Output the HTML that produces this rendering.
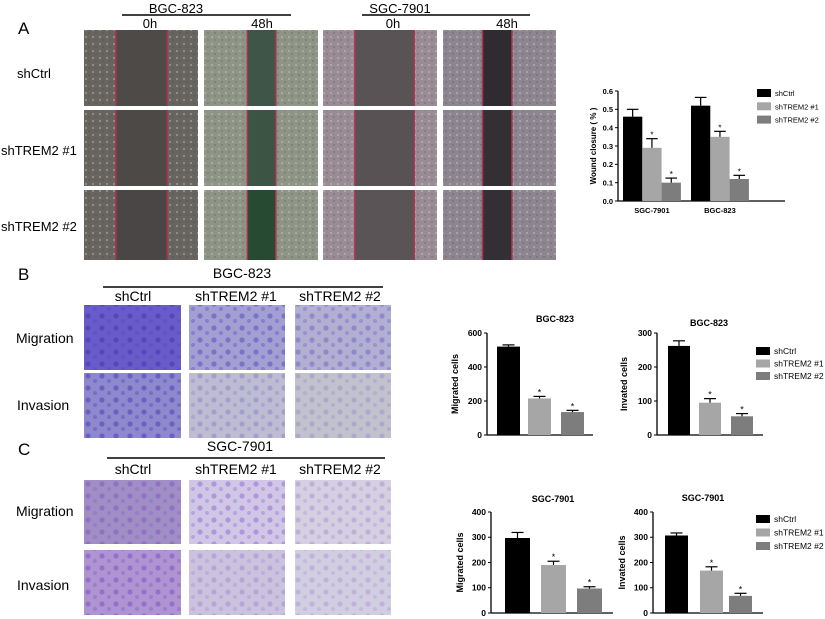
<!DOCTYPE html>
<html><head><meta charset="utf-8"><style>
body{margin:0;background:#fff;width:825px;height:619px;overflow:hidden;font-family:"Liberation Sans",Arial,sans-serif}
svg{display:block}
</style></head><body>
<svg id="fig" width="825" height="619" viewBox="0 0 825 619" xmlns="http://www.w3.org/2000/svg">
<defs>
<pattern id="speckA" width="7" height="7" patternUnits="userSpaceOnUse"><circle cx="2" cy="2" r="0.9" fill="#d8d4cc" opacity="0.6"/><circle cx="5" cy="5" r="0.7" fill="#302c2a" opacity="0.4"/></pattern>
<pattern id="blobB" width="14" height="12" patternUnits="userSpaceOnUse"><circle cx="4" cy="4" r="2.6" fill="#4a3cb8" opacity="0.75"/><circle cx="11" cy="9" r="2" fill="#5a4cc4" opacity="0.65"/></pattern>
<pattern id="blobC" width="14" height="12" patternUnits="userSpaceOnUse"><circle cx="4" cy="4" r="2.6" fill="#7a4cc8" opacity="0.7"/><circle cx="11" cy="9" r="2" fill="#8a5ccc" opacity="0.6"/></pattern>
</defs>
<g id="panelA"></g>
<g id="panelBC"></g>
<g id="charts"></g>
</svg>
<script>
// ===== Chart data =====
const groupsA = ["SGC-7901", "BGC-823"];
const seriesNames = ["shCtrl", "shTREM2 #1", "shTREM2 #2"];
const woundMeans = [[0.46, 0.29, 0.10], [0.52, 0.35, 0.12]];
const woundErrs = [[0.04, 0.05, 0.025], [0.045, 0.03, 0.02]];
const woundTicks = ["0.0", "0.1", "0.2", "0.3", "0.4", "0.5", "0.6"];
const bgcMigMeans = [520, 215, 135];
const bgcMigErrs = [10, 12, 10];
const bgcInvMeans = [262, 95, 55];
const bgcInvErrs = [15, 12, 8];
const sgcMigMeans = [297, 190, 97];
const sgcMigErrs = [22, 15, 7];
const sgcInvMeans = [307, 168, 68];
const sgcInvErrs = [10, 15, 10];
const ticks600 = [0, 200, 400, 600];
const ticks300 = [0, 100, 200, 300];
const ticks400 = [0, 100, 200, 300, 400];

const NS = "http://www.w3.org/2000/svg";
function mk(parent, tag, attrs, text) {
  const e = document.createElementNS(NS, tag);
  for (const k in attrs) e.setAttribute(k, attrs[k]);
  if (text !== undefined) e.textContent = text;
  parent.appendChild(e);
  return e;
}
const colors = ["#000000", "#a6a6a6", "#7d7d7d"];

// ===== Panel A micrographs =====
const pA = document.getElementById("panelA");
const colsA = [[84, 198], [204, 318], [323, 437], [443, 556]];
const rowsA = [[30, 106], [110, 186], [190, 260]];
const sideC = ["#68645f", "#8e9486", "#9a8c94", "#8d8590"];
const gapC = [["#4e4a48", "#4c4947", "#4a4645"], ["#3f5548", "#3c5444", "#274a33"], ["#5a5356", "#585255", "#5a5457"], ["#2e2c30", "#333034", "#333035"]];
const gapFrac = [[0.28, 0.73], [0.38, 0.63], [0.28, 0.80], [0.35, 0.61]];
for (let c = 0; c < 4; c++) for (let r = 0; r < 3; r++) {
  const [x0, x1] = colsA[c], [y0, y1] = rowsA[r], w = x1 - x0, h = y1 - y0;
  const g = mk(pA, "g", {});
  
  
  mk(g, "rect", {x: x0, y: y0, width: w, height: h, fill: sideC[c]});
  mk(g, "rect", {x: x0, y: y0, width: w, height: h, fill: "url(#speckA)"});
  const gx0 = x0 + w * gapFrac[c][0], gx1 = x0 + w * gapFrac[c][1];
  mk(g, "rect", {x: gx0, y: y0, width: gx1 - gx0, height: h, fill: gapC[c][r]});
  mk(g, "line", {x1: gx0, y1: y0, x2: gx0, y2: y1, stroke: "#b03050", "stroke-width": 1.5});
  mk(g, "line", {x1: gx1, y1: y0, x2: gx1, y2: y1, stroke: "#b03050", "stroke-width": 1.5});
}
function txt(parent, x, y, s, size, name, anchor, weight) {
  const t = mk(parent, "text", {x: x, y: y, "font-size": size, "text-anchor": anchor || "start", "font-weight": weight || "normal", fill: "#000"}, s);
  
  
  return t;
}
txt(pA, 18, 34, "A", 17, "panel-label-a");
txt(pA, 176, 13, "BGC-823", 13, "header-bgc-823", "middle");
mk(pA, "line", {x1: 122, y1: 15, x2: 291, y2: 15, stroke: "#000", "stroke-width": 1.5});
txt(pA, 400, 13, "SGC-7901", 13, "header-sgc-7901", "middle");
mk(pA, "line", {x1: 362, y1: 15, x2: 530, y2: 15, stroke: "#000", "stroke-width": 1.5});
txt(pA, 150, 28, "0h", 13, "label-0h", "middle");
txt(pA, 262, 28, "48h", 13, "label-48h", "middle");
txt(pA, 393, 28, "0h", 13, "label-0h", "middle");
txt(pA, 507, 28, "48h", 13, "label-48h", "middle");
txt(pA, 17, 78, "shCtrl", 13, "row-shctrl");
txt(pA, 1, 155, "shTREM2 #1", 13, "row-shtrem2-1");
txt(pA, 1, 231, "shTREM2 #2", 13, "row-shtrem2-2");

// ===== Panels B/C =====
const pBC = document.getElementById("panelBC");
const colsB = [[84, 181], [189, 285], [295, 391]];
const baseB = [["#6a5cc8", "#a39fd2", "#b2afd2"], ["#8e88cc", "#bdbcd2", "#c2c2cf"]];
const baseC = [["#a08ec4", "#d0c6e6", "#d4d0e2"], ["#ae94d0", "#cbc2de", "#d2cee2"]];
const opB = [[0.9, 0.6, 0.45], [0.7, 0.3, 0.25]];
const opC = [[0.6, 0.55, 0.35], [0.7, 0.35, 0.3]];
function transwell(rows, base, op, pat) {
  for (let r = 0; r < 2; r++) for (let c = 0; c < 3; c++) {
    const [x0, x1] = colsB[c], [y0, y1] = rows[r];
    const g = mk(pBC, "g", {});
    
    
    mk(g, "rect", {x: x0, y: y0, width: x1 - x0, height: y1 - y0, fill: base[r][c]});
    mk(g, "rect", {x: x0, y: y0, width: x1 - x0, height: y1 - y0, fill: pat, opacity: op[r][c]});
  }
}
transwell([[305, 370], [373, 438]], baseB, opB, "url(#blobB)");
transwell([[480, 544], [550, 615]], baseC, opC, "url(#blobC)");
txt(pBC, 18, 280, "B", 17, "panel-label-b");
txt(pBC, 242, 278, "BGC-823", 14, "header-bgc-823", "middle");
mk(pBC, "line", {x1: 103, y1: 287, x2: 383, y2: 287, stroke: "#000", "stroke-width": 1.5});
txt(pBC, 18, 455, "C", 17, "panel-label-c");
txt(pBC, 240, 451, "SGC-7901", 14, "header-sgc-7901", "middle");
mk(pBC, "line", {x1: 107, y1: 458, x2: 385, y2: 458, stroke: "#000", "stroke-width": 1.5});
const colLbl = ["shCtrl", "shTREM2 #1", "shTREM2 #2"], colX = [133, 236, 340];
for (let i = 0; i < 3; i++) { txt(pBC, colX[i], 301, colLbl[i], 14, "column-label", "middle"); txt(pBC, colX[i], 474, colLbl[i], 14, "column-label", "middle"); }
txt(pBC, 16, 343, "Migration", 14, "row-migration");
txt(pBC, 17, 410, "Invasion", 14, "row-invasion");
txt(pBC, 16, 516, "Migration", 14, "row-migration");
txt(pBC, 17, 590, "Invasion", 14, "row-invasion");

// ===== Bar charts =====
const ch = document.getElementById("charts");
function barChart(o) {
  const g = mk(ch, "g", {});
  
  
  const ymax = o.ymax;
  const yS = v => o.y0 - (v / ymax) * (o.y0 - o.yTop);
  mk(g, "line", {x1: o.ax, y1: o.yTop, x2: o.ax, y2: o.y0, stroke: "#000", "stroke-width": 1.3});
  mk(g, "line", {x1: o.ax, y1: o.y0, x2: o.axEnd, y2: o.y0, stroke: "#000", "stroke-width": 1.3});
  o.ticks.forEach((tv, i) => {
    const v = parseFloat(tv), y = yS(v);
    mk(g, "line", {x1: o.ax - 3, y1: y, x2: o.ax, y2: y, stroke: "#000", "stroke-width": 1});
    txt(g, o.ax - 5, y + 2.8, String(tv), o.fs, "y-tick-label", "end", "bold");
  });
  const yl = txt(g, 0, 0, o.ylabel, o.fs + 0.5, "y-axis-title", "middle", "bold");
  yl.setAttribute("transform", `translate(${o.ylx},${(o.yTop + o.y0) / 2}) rotate(-90)`);
  if (o.title) txt(g, o.tx, o.ty, o.title, o.fs + 0.5, "chart-title", "middle", "bold");
  o.groups.forEach((grp, gi) => {
    grp.means.forEach((m, si) => {
      const x = grp.x + si * o.bw, yt = yS(m), ye = yS(m + grp.errs[si]);
      const r = mk(g, "rect", {x: x, y: yt, width: o.bw, height: o.y0 - yt, fill: colors[si]});
      
      
      const cx = x + o.bw / 2;
      mk(g, "line", {x1: cx, y1: yt, x2: cx, y2: ye, stroke: "#000", "stroke-width": 1.2});
      mk(g, "line", {x1: cx - o.bw * 0.3, y1: ye, x2: cx + o.bw * 0.3, y2: ye, stroke: "#000", "stroke-width": 1.2});
      if (si > 0) txt(g, cx, ye - 1, "*", o.fs + 1, "significance-star", "middle");
    });
    if (grp.label) txt(g, grp.x + o.bw * 1.5, o.y0 + 12, grp.label, o.fs, "x-tick-label", "middle", "bold");
  });
  if (o.legend) {
    seriesNames.forEach((s, i) => {
      const ly = o.legend.y + i * o.legend.dy;
      const sw = mk(g, "rect", {x: o.legend.x, y: ly - 4, width: 14, height: 8, fill: colors[i]});
      
      
      const t = mk(g, "text", {x: o.legend.x + 18, y: ly + 3, "font-size": o.fs, fill: "#000"}, s);
      
      
    });
  }
}
barChart({name: "wound-closure-chart", ax: 618, axEnd: 785, yTop: 91, y0: 201, ymax: 0.6, ticks: woundTicks, fs: 7.5,
  ylabel: "Wound closure ( % )", ylx: 596, bw: 19.3,
  groups: [{x: 623, means: woundMeans[0], errs: woundErrs[0], label: groupsA[0]}, {x: 691, means: woundMeans[1], errs: woundErrs[1], label: groupsA[1]}],
  legend: {x: 757, y: 93, dy: 13.3}});
barChart({name: "bgc-migration-chart", ax: 487, axEnd: 593, yTop: 333, y0: 435, ymax: 600, ticks: ticks600, fs: 8.5,
  ylabel: "Migrated cells", ylx: 458, title: "BGC-823", tx: 555, ty: 322, bw: 0, groups: []});
barChart({name: "bgc-invasion-chart", ax: 657, axEnd: 763, yTop: 333, y0: 435, ymax: 300, ticks: ticks300, fs: 8.5,
  ylabel: "Invated cells", ylx: 627, title: "BGC-823", tx: 709, ty: 326, bw: 0,
  groups: [], legend: {x: 756, y: 351, dy: 12.5}});
barChart({name: "sgc-migration-chart", ax: 491, axEnd: 613, yTop: 512, y0: 613, ymax: 400, ticks: ticks400, fs: 8.5,
  ylabel: "Migrated cells", ylx: 463, title: "SGC-7901", tx: 553, ty: 502, bw: 0, groups: []});
barChart({name: "sgc-invasion-chart", ax: 653, axEnd: 763, yTop: 512, y0: 613, ymax: 400, ticks: ticks400, fs: 8.5,
  ylabel: "Invated cells", ylx: 625, title: "SGC-7901", tx: 703, ty: 501, bw: 0,
  groups: [], legend: {x: 756, y: 519, dy: 13.5}});
function spacedBars(name, xs, w, means, errs, y0, yTop, ymax) {
  const g = mk(ch, "g", {});
  
  
  const yS = v => y0 - (v / ymax) * (y0 - yTop);
  means.forEach((m, i) => {
    const yt = yS(m), ye = yS(m + errs[i]), cx = xs[i] + w / 2;
    const r = mk(g, "rect", {x: xs[i], y: yt, width: w, height: y0 - yt, fill: colors[i]});
    
    
    mk(g, "line", {x1: cx, y1: yt, x2: cx, y2: ye, stroke: "#000", "stroke-width": 1.2});
    mk(g, "line", {x1: cx - 6, y1: ye, x2: cx + 6, y2: ye, stroke: "#000", "stroke-width": 1.2});
    if (i > 0) txt(g, cx, ye - 1, "*", 9, "significance-star", "middle");
  });
}
spacedBars("bgc-migration-bars", [497, 528, 561], 23, bgcMigMeans, bgcMigErrs, 435, 333, 600);
spacedBars("bgc-invasion-bars", [668, 699, 731], 22, bgcInvMeans, bgcInvErrs, 435, 333, 300);
spacedBars("sgc-migration-bars", [505, 541, 577], 25, sgcMigMeans, sgcMigErrs, 613, 512, 400);
spacedBars("sgc-invasion-bars", [665, 700, 729], 23, sgcInvMeans, sgcInvErrs, 613, 512, 400);
</script>
</body></html>
